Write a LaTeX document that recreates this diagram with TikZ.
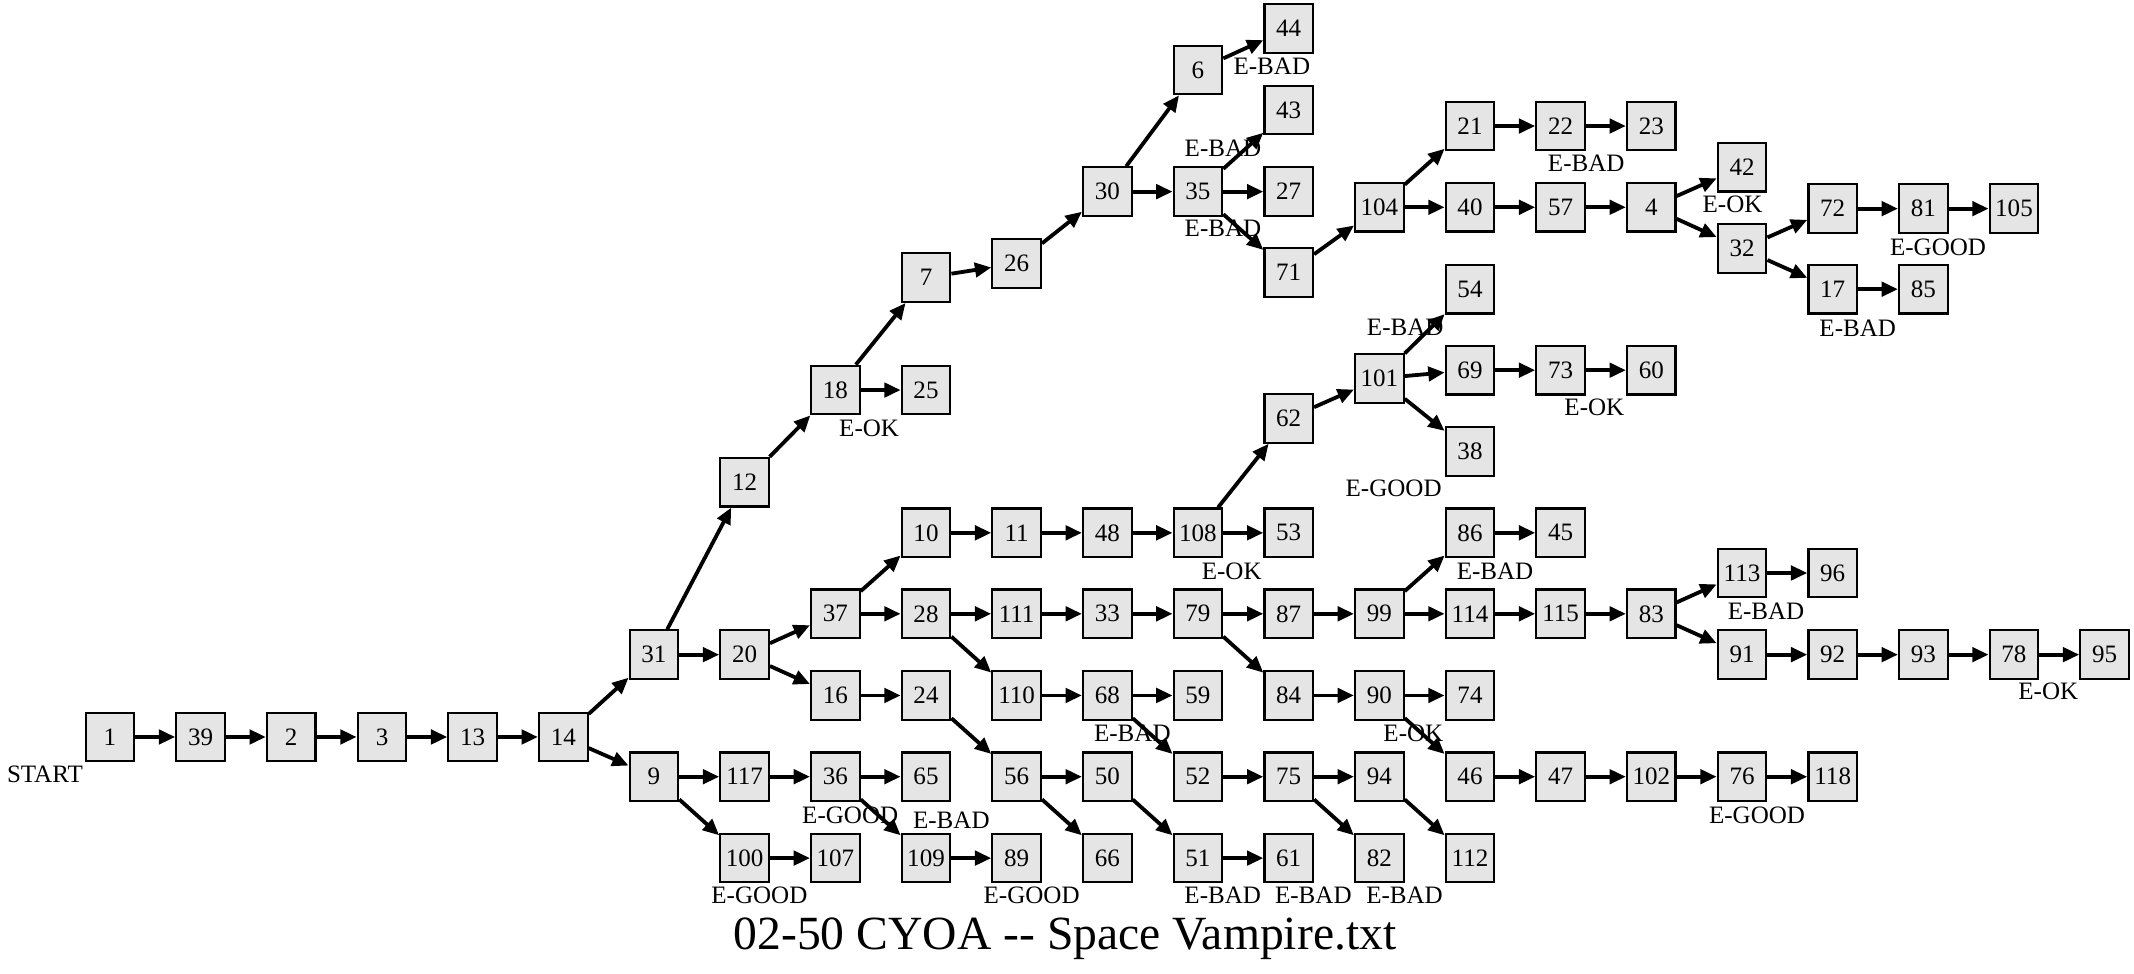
\documentclass[tikz,border=0pt]{standalone}
\usepackage{fontspec}
\setmainfont{Liberation Serif}
\usetikzlibrary{arrows.meta}
\tikzset{
  nodebox/.style={draw=black, fill=black!10, line width=1.6pt, minimum width=35.7pt, minimum height=35.7pt, inner sep=0pt, font=\fontsize{18.4pt}{20pt}\selectfont},
  lbl/.style={inner sep=0pt, anchor=base, font=\fontsize{18.4pt}{20pt}\selectfont},
  edge/.style={line width=2.8pt, -{Triangle[length=12pt,width=10.5pt]}, shorten >=0pt},
}
\newcommand{\nd}[3]{\node[nodebox] (n#1) at (#2,#3) {#1};}
\begin{document}
\begin{tikzpicture}[x=1pt,y=-1pt]
\useasboundingbox (0,0) rectangle (1568,715);
% columns
\def\ca{80.8}\def\cb{147.4}\def\cc{214.0}\def\cd{280.7}\def\ce{347.3}\def\cf{413.9}
\def\cg{480.5}\def\ch{547.1}\def\ci{613.8}\def\cj{680.4}\def\ck{747.0}\def\cl{813.6}
\def\cm{880.2}\def\cn{946.9}\def\co{1013.5}\def\cp{1080.1}\def\cq{1146.7}\def\cr{1213.3}
\def\cs{1280.0}\def\ct{1346.6}\def\cu{1413.2}\def\cv{1479.8}\def\cw{1546.4}
% nodes
\nd{1}{\ca}{541.5}\nd{39}{\cb}{541.5}\nd{2}{\cc}{541.5}\nd{3}{\cd}{541.5}\nd{13}{\ce}{541.5}\nd{14}{\cf}{541.5}
\nd{31}{\cg}{481}\nd{9}{\cg}{570.7}
\nd{12}{\ch}{354.3}\nd{20}{\ch}{481}\nd{117}{\ch}{570.7}\nd{100}{\ch}{630.5}
\nd{18}{\ci}{286.6}\nd{37}{\ci}{451}\nd{16}{\ci}{511}\nd{36}{\ci}{570.7}\nd{107}{\ci}{630.5}
\nd{7}{\cj}{204}\nd{25}{\cj}{286.6}\nd{10}{\cj}{391.5}\nd{28}{\cj}{451}\nd{24}{\cj}{511}\nd{65}{\cj}{570.7}\nd{109}{\cj}{630.5}
\nd{26}{\ck}{193.6}\nd{11}{\ck}{391.5}\nd{111}{\ck}{451}\nd{110}{\ck}{511}\nd{56}{\ck}{570.7}\nd{89}{\ck}{630.5}
\nd{30}{\cl}{140.8}\nd{48}{\cl}{391.5}\nd{33}{\cl}{451}\nd{68}{\cl}{511}\nd{50}{\cl}{570.7}\nd{66}{\cl}{630.5}
\nd{6}{\cm}{51.4}\nd{35}{\cm}{140.8}\nd{108}{\cm}{391.5}\nd{79}{\cm}{451}\nd{59}{\cm}{511}\nd{52}{\cm}{570.7}\nd{51}{\cm}{630.5}
\nd{44}{\cn}{21}\nd{43}{\cn}{80.8}\nd{27}{\cn}{140.8}\nd{71}{\cn}{200.2}\nd{62}{\cn}{307.4}\nd{53}{\cn}{391.5}\nd{87}{\cn}{451}\nd{84}{\cn}{511}\nd{75}{\cn}{570.7}\nd{61}{\cn}{630.5}
\nd{104}{\co}{152.3}\nd{101}{\co}{278}\nd{99}{\co}{451}\nd{90}{\co}{511}\nd{94}{\co}{570.7}\nd{82}{\co}{630.5}
\nd{21}{\cp}{92.6}\nd{40}{\cp}{152.3}\nd{54}{\cp}{212.5}\nd{69}{\cp}{272}\nd{38}{\cp}{331.6}\nd{86}{\cp}{391.5}\nd{114}{\cp}{451}\nd{74}{\cp}{511}\nd{46}{\cp}{570.7}\nd{112}{\cp}{630.5}
\nd{22}{\cq}{92.6}\nd{57}{\cq}{152.3}\nd{73}{\cq}{272}\nd{45}{\cq}{391.5}\nd{115}{\cq}{451}\nd{47}{\cq}{570.7}
\nd{23}{\cr}{92.6}\nd{4}{\cr}{152.3}\nd{60}{\cr}{272}\nd{83}{\cr}{451}\nd{102}{\cr}{570.7}
\nd{42}{\cs}{122.8}\nd{32}{\cs}{182.7}\nd{113}{\cs}{421}\nd{91}{\cs}{481}\nd{76}{\cs}{570.7}
\nd{72}{\ct}{153.3}\nd{17}{\ct}{212.5}\nd{96}{\ct}{421}\nd{92}{\ct}{481}\nd{118}{\ct}{570.7}
\nd{81}{\cu}{153.3}\nd{85}{\cu}{212.5}\nd{93}{\cu}{481}
\nd{105}{\cv}{153.3}\nd{78}{\cv}{481}
\nd{95}{\cw}{481}
% edges
\foreach \a/\b in {1/39,39/2,2/3,3/13,13/14,14/31,14/9,31/12,31/20,
  12/18,18/7,18/25,7/26,26/30,30/6,30/35,6/44,35/43,35/27,35/71,71/104,104/21,104/40,21/22,22/23,40/57,57/4,4/42,4/32,32/72,32/17,72/81,81/105,17/85,
  20/37,20/16,37/10,37/28,10/11,11/48,48/108,108/62,108/53,62/101,101/54,101/69,101/38,69/73,73/60,
  28/111,28/110,111/33,33/79,79/87,79/84,87/99,99/86,99/114,86/45,114/115,115/83,83/113,83/91,113/96,91/92,92/93,93/78,78/95,
  110/68,68/59,68/52,84/90,90/74,90/46,46/47,47/102,102/76,76/118,
  16/24,24/56,56/50,56/66,50/51,51/61,52/75,75/94,75/82,94/112,
  9/117,9/100,117/36,36/65,36/109,109/89,100/107}
  \draw[edge] (n\a) -- (n\b);
% labels
\node[lbl] (lstart) at (33,575) {START};
\node[lbl] (l1) at (934.5,55) {E-BAD};
\node[lbl] (l2) at (898.6,115) {E-BAD};
\node[lbl] (l3) at (898.6,174) {E-BAD};
\node[lbl] (l4) at (1165.5,126) {E-BAD};
\node[lbl] (l5) at (1273,156) {E-OK};
\node[lbl] (l6) at (1424,188) {E-GOOD};
\node[lbl] (l7) at (1365,247) {E-BAD};
\node[lbl] (l8) at (1032.5,246.5) {E-BAD};
\node[lbl] (l9) at (638.6,320.5) {E-OK};
\node[lbl] (l10) at (1171.5,305.5) {E-OK};
\node[lbl] (l11) at (1024,365) {E-GOOD};
\node[lbl] (l12) at (905,425.5) {E-OK};
\node[lbl] (l13) at (1098.5,425.5) {E-BAD};
\node[lbl] (l14) at (1297.6,455.5) {E-BAD};
\node[lbl] (l15) at (1505,514) {E-OK};
\node[lbl] (l16) at (832,545) {E-BAD};
\node[lbl] (l17) at (1038.5,545) {E-OK};
\node[lbl] (l18) at (624.7,605) {E-GOOD};
\node[lbl] (l19) at (699,609) {E-BAD};
\node[lbl] (l20) at (1291,605) {E-GOOD};
\node[lbl] (l21) at (558,664) {E-GOOD};
\node[lbl] (l22) at (758,664) {E-GOOD};
\node[lbl] (l23) at (898.4,664) {E-BAD};
\node[lbl] (l24) at (965,664) {E-BAD};
\node[lbl] (l25) at (1032,664) {E-BAD};
\node[inner sep=0pt, anchor=base, font=\fontsize{35pt}{38pt}\selectfont] (title) at (782.5,698) {02-50 CYOA {-}{-} Space Vampire.txt};
\end{tikzpicture}
\end{document}
